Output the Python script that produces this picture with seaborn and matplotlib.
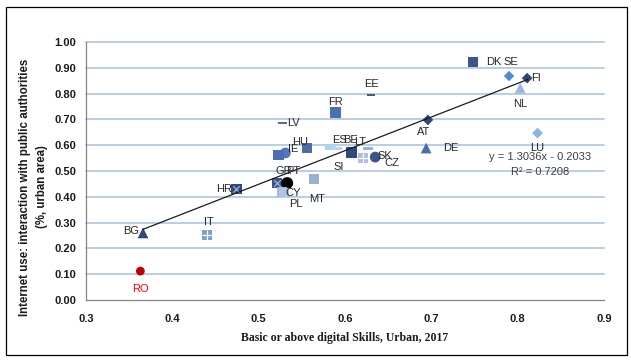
import matplotlib
matplotlib.use("Agg")
import matplotlib.pyplot as plt
import pandas as pd
import seaborn as sns
from matplotlib.patches import Rectangle

# Country values: basic-or-above digital skills (urban, 2017) vs e-government use
countries = ["DK", "SE", "FI", "NL", "LU", "EE", "FR", "LV", "AT", "DE",
             "HU", "IE", "UK", "ES", "SI", "BE", "LT", "CZ", "SK", "HR",
             "GR", "PT", "CY", "PL", "MT", "IT", "BG", "RO"]
skills = [0.748, 0.790, 0.811, 0.803, 0.823, 0.630, 0.589, 0.528, 0.696, 0.694,
          0.556, 0.531, 0.523, 0.583, 0.590, 0.607, 0.627, 0.621, 0.635, 0.474,
          0.521, 0.533, 0.527, 0.529, 0.564, 0.440, 0.366, 0.363]
egov = [0.922, 0.868, 0.860, 0.822, 0.647, 0.795, 0.725, 0.686, 0.698, 0.589,
        0.589, 0.570, 0.562, 0.589, 0.587, 0.570, 0.589, 0.550, 0.554, 0.430,
        0.453, 0.453, 0.419, 0.417, 0.469, 0.252, 0.260, 0.112]

# Linear trend reported on the chart
slope, intercept, r_squared = 1.3036, -0.2033, 0.7208
trend_x = [0.366, 0.812]

x_ticks = [0.3, 0.4, 0.5, 0.6, 0.7, 0.8, 0.9]
y_ticks = [0.0, 0.1, 0.2, 0.3, 0.4, 0.5, 0.6, 0.7, 0.8, 0.9, 1.0]

DASH = [(-1, -0.3), (1, -0.3), (1, 0.3), (-1, 0.3)]

# marker, colour, size per country
style = {
    "DK": ("s", "#3B5688", 55), "SE": ("D", "#4A8CD4", 28), "FI": ("D", "#2F4779", 30),
    "NL": ("^", "#9DB9E0", 60), "LU": ("D", "#8DB3E2", 30), "EE": (DASH, "#4A5A88", 40),
    "FR": ("s", "#4A70B0", 62), "LV": (DASH, "#5D6E99", 40), "AT": ("D", "#2F4779", 30),
    "DE": ("^", "#4A6EAA", 60), "HU": ("s", "#4B6DA8", 50), "IE": ("o", "#4F79BF", 60),
    "UK": ("s", "#4B6FB0", 55), "ES": (DASH, "#A8D4EE", 60), "SI": (DASH, "#B8D4EE", 60),
    "BE": ("s", "#2E4A7E", 62), "LT": (DASH, "#8EB4E0", 50), "CZ": ("s", "#A7C0E2", 55),
    "SK": ("o", "#3B5686", 60), "HR": ("s", "#2F4B7E", 60), "GR": ("s", "#3A5689", 55),
    "PT": ("o", "#000000", 75), "CY": ("s", "#A3B8DB", 55), "PL": ("s", "#B0C4E4", 50),
    "MT": ("s", "#9BAED6", 58), "IT": ("s", "#7D9ED0", 50), "BG": ("^", "#2F4779", 60),
    "RO": ("o", "#C00000", 40),
}

# label offsets in pixels (dx, dy, horizontal alignment)
label_pos = {
    "DK": (13, 0, "left"), "SE": (2, 14, "center"), "FI": (4, 0, "left"),
    "NL": (0, -16, "center"), "LU": (0, -15, "center"), "EE": (1, 11, "center"),
    "FR": (0, 11, "center"), "LV": (4, 0, "left"), "AT": (-4, -12, "center"),
    "DE": (17, 0, "left"), "HU": (-7, 6, "center"), "IE": (8, 4, "center"),
    "ES": (9, 8, "center"), "SI": (2, -18, "center"), "BE": (-1, 13, "center"),
    "LT": (-8, 6, "center"), "CZ": (29, -5, "center"), "SK": (2, 1, "left"),
    "GR": (7, 12, "center"), "PT": (6, 12, "center"), "CY": (11, -1, "center"),
    "PL": (12, -12, "center"), "MT": (3, -20, "center"), "HR": (-4, 0, "right"),
    "IT": (2, 13, "center"), "BG": (-4, 2, "right"), "RO": (0, -18, "center"),
}

df = pd.DataFrame({"country": countries, "skills": skills, "egov": egov})

sns.set_style("white")
plt.rcParams["font.family"] = ["Liberation Sans", "DejaVu Sans"]

fig = plt.figure(figsize=(6.31, 3.61), dpi=100)
ax = fig.add_axes([86 / 631, 61 / 361, 518 / 631, 258 / 361])

# horizontal gridlines
for yv in y_ticks[1:]:
    ax.axhline(yv, color="#B9CDE5", lw=1.4, zorder=0, clip_on=False)

sns.scatterplot(
    data=df, x="skills", y="egov", hue="country", style="country", size="country",
    palette={c: style[c][1] for c in countries},
    markers={c: style[c][0] for c in countries},
    sizes={c: style[c][2] for c in countries},
    linewidth=0, legend=False, ax=ax, zorder=3,
)

# pattern strokes on some square markers
cross_df = df[df["country"].isin(["HR", "GR"])]
sns.scatterplot(data=cross_df, x="skills", y="egov", marker="x", color="#9FB3D6",
                s=22, linewidth=0.9, legend=False, ax=ax, zorder=4)
plus_df = df[df["country"].isin(["IT", "CZ"])]
sns.scatterplot(data=plus_df, x="skills", y="egov", marker="+", color="white",
                s=45, linewidth=0.9, legend=False, ax=ax, zorder=4)

# trend line
trend_df = pd.DataFrame({"x": trend_x, "y": [slope * v + intercept for v in trend_x]})
sns.lineplot(data=trend_df, x="x", y="y", color="#1a1a1a", lw=0.9, ax=ax, zorder=5)

for c, xv, yv in zip(countries, skills, egov):
    if c not in label_pos:
        continue
    dx, dy, ha = label_pos[c]
    ax.annotate(c, (xv, yv), xytext=(dx, dy), textcoords="offset pixels",
                ha=ha, va="center", fontsize=8,
                color="#FF0000" if c == "RO" else "#262626", zorder=6)

ax.text(0.826, 0.554, f"y = {slope:.4f}x - {abs(intercept):.4f}", ha="center", va="center",
        fontsize=8, color="#404040")
ax.text(0.826, 0.496, f"R² = {r_squared:.4f}", ha="center", va="center",
        fontsize=8, color="#404040")

ax.set_xlim(0.3, 0.9)
ax.set_ylim(0.0, 1.0)
ax.set_xticks(x_ticks)
ax.set_yticks(y_ticks)
ax.set_xticklabels([f"{v:.1f}" for v in x_ticks], fontsize=8, fontweight="bold")
ax.set_yticklabels([f"{v:.2f}" for v in y_ticks], fontsize=8, fontweight="bold")
ax.tick_params(axis="both", direction="out", length=4, width=0.8, color="#868686",
               labelcolor="#1a1a1a")
ax.tick_params(axis="y", pad=3)
ax.tick_params(axis="x", pad=6)
for side in ["top", "right"]:
    ax.spines[side].set_visible(False)
for side in ["left", "bottom"]:
    ax.spines[side].set_color("#868686")
    ax.spines[side].set_linewidth(0.9)

ax.set_xlabel("Basic or above digital Skills, Urban, 2017", family="Liberation Serif",
              fontsize=8.5, fontweight="bold", color="#1a1a1a")
ax.xaxis.set_label_coords(0.5, -0.125)
ax.set_ylabel("Internet use: interaction with public authorities\n(%, urban area)",
              fontsize=8.3, fontweight="bold", color="#1a1a1a", linespacing=1.55)
ax.yaxis.set_label_coords(-0.073, 0.438)

# outer frame of the chart area
fig.add_artist(Rectangle((5.5 / 631, 6 / 361), 621 / 631, 348 / 361,
                         transform=fig.transFigure, fill=False, ec="black", lw=0.9))

fig.savefig("out.png", dpi=100)
